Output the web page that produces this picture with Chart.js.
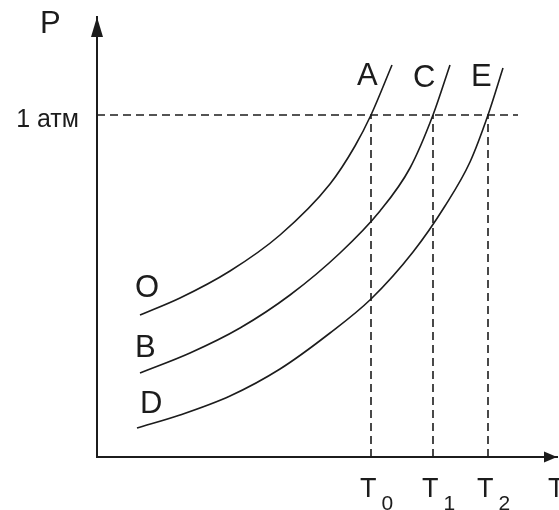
<!DOCTYPE html>
<html>
<head>
<meta charset="utf-8">
<script src="https://cdn.jsdelivr.net/npm/chart.js@4/dist/chart.umd.min.js"></script>
<style>
  html, body { margin: 0; padding: 0; background: #fff; }
  #wrap { width: 559px; height: 510px; }
</style>
</head>
<body>
<div id="wrap"><canvas id="phaseChart" width="559" height="510"></canvas></div>
<script>
// curves, T and P in arbitrary units
let curveOA_T = [4.3, 8.3, 13.3, 18.3, 23.3, 25.8, 27.4, 29.5]
let curveOA_P = [14.2, 15.9, 18.6, 22.2, 27.3, 31.1, 34.2, 39.2]

let curveBC_T = [4.3, 9.3, 14.3, 19.3, 24.3, 28.3, 31.3, 33.6, 35.3]
let curveBC_P = [8.4, 10.4, 12.9, 16.2, 20.4, 24.6, 28.9, 34.2, 39.2]

let curveDE_T = [4.0, 8.3, 13.3, 18.3, 23.3, 27.4, 31.6, 34.8, 37.3, 39.1, 40.6]
let curveDE_P = [2.9, 4.2, 6.1, 8.8, 12.4, 15.8, 20.5, 25.1, 29.5, 34.2, 38.9]

// the 1 atm level and the three temperatures where the curves cross it
let pAtm = 34.2
let pAtmLabel = "1 атм"
let tempValues = [27.4, 33.6, 39.1]
let tempSubs = ["0", "1", "2"]
let dashEndT = 42.1

// letters at the curve ends: [text, T, P] (left edge, baseline)
let curveLetters = [["O", 3.8, 16.0], ["B", 3.8, 10.0], ["D", 4.3, 4.4],
                    ["A", 26.0, 37.2], ["C", 31.6, 37.0], ["E", 37.4, 37.1]]

let ink = "#1c1c1c"
let fontFam = "'Liberation Sans', Arial, sans-serif"

function toXY(ts, ps) {
  return ts.map((t, i) => ({x: t, y: ps[i]}))
}

function curveSet(ts, ps) {
  return {data: toXY(ts, ps), borderColor: ink, borderWidth: 1.6,
          pointRadius: 0, cubicInterpolationMode: 'monotone', fill: false}
}

function dashSet(points) {
  return {data: points, borderColor: ink, borderWidth: 1.6, borderDash: [8, 5],
          pointRadius: 0, tension: 0, fill: false}
}

let datasets = [
  dashSet([{x: 0, y: pAtm}, {x: dashEndT, y: pAtm}])
]
tempValues.forEach(t => datasets.push(dashSet([{x: t, y: 0}, {x: t, y: pAtm}])))
datasets.push(curveSet(curveOA_T, curveOA_P))
datasets.push(curveSet(curveBC_T, curveBC_P))
datasets.push(curveSet(curveDE_T, curveDE_P))

// arrows, axis letters, T0/T1/T2 and the curve letters
let decorPlugin = {
  id: 'decor',
  afterDraw(chart) {
    let ctx = chart.ctx
    let xs = chart.scales.x, ys = chart.scales.y
    let a = chart.chartArea
    ctx.save()
    ctx.fillStyle = ink

    // arrow heads
    ctx.beginPath()
    ctx.moveTo(a.left, a.top)
    ctx.lineTo(a.left - 6, a.top + 20)
    ctx.lineTo(a.left + 6, a.top + 20)
    ctx.closePath()
    ctx.fill()
    ctx.beginPath()
    ctx.moveTo(a.right, a.bottom)
    ctx.lineTo(a.right - 13, a.bottom - 5.5)
    ctx.lineTo(a.right - 13, a.bottom + 5.5)
    ctx.closePath()
    ctx.fill()

    ctx.textBaseline = 'alphabetic'
    ctx.textAlign = 'left'
    ctx.font = "31px " + fontFam
    ctx.fillText("P", a.left - 57, a.top + 16)

    curveLetters.forEach(l => {
      ctx.fillText(l[0], xs.getPixelForValue(l[1]), ys.getPixelForValue(l[2]))
    })

    // temperatures under the axis, T with a big subscript
    tempValues.forEach((t, i) => {
      let px = xs.getPixelForValue(t)
      ctx.font = "27px " + fontFam
      ctx.fillText("T", px - 11, a.bottom + 40)
      let w = ctx.measureText("T").width
      ctx.font = "21px " + fontFam
      ctx.fillText(tempSubs[i], px - 11 + w + 5, a.bottom + 53)
    })
    ctx.font = "27px " + fontFam
    ctx.fillText("T", a.right - 9, a.bottom + 40)
    ctx.restore()
  }
}

let phaseChart = new Chart(document.getElementById("phaseChart"), {
  type: 'line',
  data: {datasets: datasets},
  plugins: [decorPlugin],
  options: {
    responsive: false,
    animation: false,
    events: [],
    layout: {padding: {top: 17, right: 2, bottom: 0, left: 0}},
    plugins: {legend: {display: false}, tooltip: {enabled: false}},
    scales: {
      x: {
        type: 'linear', min: 0, max: 46,
        grid: {display: false},
        border: {display: true, color: ink, width: 2},
        ticks: {display: false},
        afterFit: s => { s.height = 53; s.paddingLeft = 0; s.paddingRight = 0 }
      },
      y: {
        type: 'linear', min: 0, max: 44,
        grid: {display: false},
        border: {display: true, color: ink, width: 2},
        afterBuildTicks: s => { s.ticks = [{value: pAtm}] },
        ticks: {
          callback: () => pAtmLabel,
          color: ink,
          font: {family: fontFam, size: 25},
          padding: 10,
          labelOffset: 5
        },
        // keep the plot area where the picture has it
        afterFit: s => { s.width = 97; s.paddingTop = 0; s.paddingBottom = 0 }
      }
    }
  }
})
</script>
</body>
</html>
